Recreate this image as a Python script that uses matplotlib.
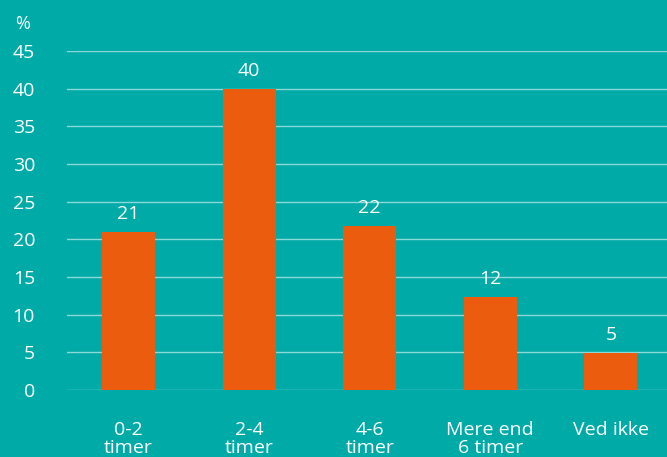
import matplotlib.pyplot as plt
import numpy as np

categories = ['0-2\ntimer', '2-4\ntimer', '4-6\ntimer', 'Mere end\n6 timer', 'Ved ikke']
values = [21.0, 40.0, 21.8, 12.4, 4.9]
labels = ['21', '40', '22', '12', '5']
yticks = [0, 5, 10, 15, 20, 25, 30, 35, 40, 45]

bg = '#00ABA7'
bar_color = '#EB5C0E'
txt = 'white'

plt.rcParams['font.family'] = ['Open Sans', 'DejaVu Sans']

fig = plt.figure(figsize=(6.67, 4.57), dpi=100, facecolor=bg)
ax = fig.add_axes([0.1004, 0.1466, 0.8996, 0.7418])
ax.set_facecolor(bg)

x = np.arange(len(categories))
bars = ax.bar(x, values, width=0.44, color=bar_color, zorder=3)

for b, lab in zip(bars, labels):
    ax.annotate(lab, (b.get_x() + b.get_width() / 2, b.get_height()),
                xytext=(0, 6.5), textcoords='offset points',
                ha='center', va='bottom', color=txt, fontsize=14)

ax.set_ylim(0, 45)
ax.set_xlim(-0.51, 4.465)
ax.set_yticks(yticks)
ax.set_xticks(x)
ax.set_xticklabels(categories, linespacing=1.05)
ax.yaxis.grid(True, color='white', alpha=0.55, linewidth=1, zorder=0)
ax.set_axisbelow(True)

for s in ax.spines.values():
    s.set_visible(False)

ax.tick_params(axis='y', length=0, pad=23, labelsize=14, labelcolor=txt)
ax.tick_params(axis='x', length=0, pad=22, labelsize=14, labelcolor=txt)

fig.text(23 / 667, 1 - 24 / 457, '%', color=txt, fontsize=13, ha='center', va='center')

fig.savefig('out.png', dpi=100, facecolor=bg)
